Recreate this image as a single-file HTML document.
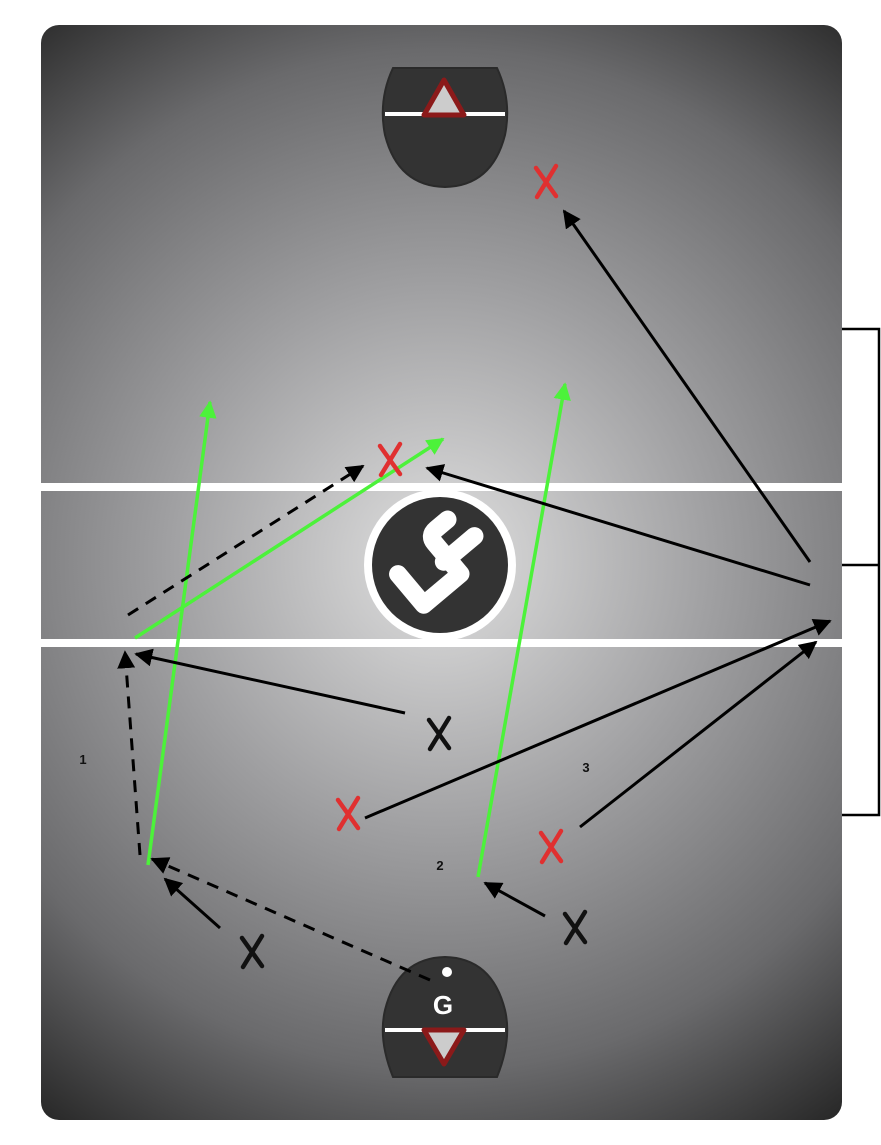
<!DOCTYPE html>
<html><head><meta charset="utf-8"><style>
html,body{margin:0;padding:0;background:#fff;}
svg{display:block;}
</style></head><body>
<svg width="881" height="1145" viewBox="0 0 881 1145" xmlns="http://www.w3.org/2000/svg">
<defs>
<radialGradient id="g" cx="440" cy="560" r="680" gradientUnits="userSpaceOnUse">
<stop offset="0" stop-color="#e0e0e0"/>
<stop offset="0.4" stop-color="#a0a0a2"/>
<stop offset="0.75" stop-color="#6a6a6c"/>
<stop offset="1" stop-color="#2a2a2a"/>
</radialGradient>
<marker id="a" viewBox="0 0 10 10" refX="9" refY="5" markerWidth="6" markerHeight="6" orient="auto" markerUnits="strokeWidth">
<path d="M0,0 L10,5 L0,10 z" fill="#000"/>
</marker>
<marker id="ag" viewBox="0 0 10 10" refX="9" refY="5" markerWidth="5" markerHeight="5" orient="auto" markerUnits="strokeWidth">
<path d="M0,0 L10,5 L0,10 z" fill="#4cf23a"/>
</marker>
</defs>
<rect x="41" y="25" width="801" height="1095" rx="18" fill="url(#g)"/>
<rect x="41" y="483" width="801" height="8" fill="#fff"/>
<rect x="41" y="639" width="801" height="8" fill="#fff"/>
<path d="M842,329 H879 V815 H842 M842,565 H879" fill="none" stroke="#000" stroke-width="2.5"/>
<path d="M393,68 H497 Q512,100 505,135 Q492,186 445,187 Q398,186 385,135 Q378,100 393,68 Z" fill="#333" stroke="#2a2a2a" stroke-width="2"/>
<rect x="385" y="112" width="120" height="4" fill="#fff"/>
<path d="M444,80 L464,115 L424,115 Z" fill="#ccc" stroke="#8b1a1a" stroke-width="5" stroke-linejoin="round"/>
<path d="M393,1077 H497 Q512,1040 505,1010 Q492,958 445,957 Q398,958 385,1010 Q378,1040 393,1077 Z" fill="#333" stroke="#2a2a2a" stroke-width="2"/>
<rect x="385" y="1028" width="120" height="4" fill="#fff"/>
<path d="M424,1030 L464,1030 L444,1064 Z" fill="#ccc" stroke="#8b1a1a" stroke-width="5" stroke-linejoin="round"/>
<circle cx="447" cy="972" r="5" fill="#fff"/>
<text x="443" y="1014" font-family="Liberation Sans, sans-serif" font-weight="bold" font-size="26" fill="#fff" text-anchor="middle">G</text>
<circle cx="440" cy="565" r="76" fill="#fff"/>
<circle cx="440" cy="565" r="68" fill="#333"/>
<g transform="rotate(-40 440 565)" fill="none" stroke="#fff" stroke-width="18" stroke-linecap="round" stroke-linejoin="round">
<path d="M402,545 V585 H450 V545 Q450,535 460,535 H475 M468,565 H485 M445,565 H470"/>
</g>
<g stroke="#4cf23a" stroke-width="3.5" fill="none">
<line x1="148" y1="865" x2="210" y2="402" marker-end="url(#ag)"/>
<line x1="135" y1="638" x2="443" y2="439" marker-end="url(#ag)"/>
<line x1="478" y1="877" x2="565" y2="384" marker-end="url(#ag)"/>
</g>
<g stroke="#000" stroke-width="3" fill="none">
<line x1="810" y1="562" x2="564" y2="211" marker-end="url(#a)"/>
<line x1="810" y1="585" x2="427" y2="468" marker-end="url(#a)"/>
<line x1="365" y1="818" x2="830" y2="621" marker-end="url(#a)"/>
<line x1="580" y1="827" x2="816" y2="642" marker-end="url(#a)"/>
<line x1="405" y1="713" x2="136" y2="654" marker-end="url(#a)"/>
<line x1="220" y1="928" x2="165" y2="879" marker-end="url(#a)"/>
<line x1="545" y1="916" x2="485" y2="883" marker-end="url(#a)"/>
</g>
<g stroke="#000" stroke-width="3" fill="none" stroke-dasharray="12,9">
<line x1="128" y1="615" x2="363" y2="466" marker-end="url(#a)"/>
<line x1="140" y1="855" x2="125" y2="652" marker-end="url(#a)"/>
<line x1="430" y1="980" x2="152" y2="859" marker-end="url(#a)"/>
</g>
<g stroke-width="4.5" stroke-linecap="round" fill="none">
<path stroke="#e03030" d="M536,168 L556,196 M556,166 L537,197"/>
<path stroke="#e03030" d="M380,446 L400,474 M400,444 L381,475"/>
<path stroke="#e03030" d="M338,800 L358,828 M358,798 L339,829"/>
<path stroke="#e03030" d="M541,833 L561,861 M561,831 L542,862"/>
<path stroke="#111" d="M429,720 L449,748 M449,718 L430,749"/>
<path stroke="#111" d="M242,938 L262,966 M262,936 L243,967"/>
<path stroke="#111" d="M565,914 L585,942 M585,912 L566,943"/>
</g>
<g font-family="Liberation Sans, sans-serif" font-weight="bold" font-size="13" fill="#111" text-anchor="middle">
<text x="83" y="764">1</text>
<text x="440" y="870">2</text>
<text x="586" y="772">3</text>
</g>
</svg>
</body></html>
